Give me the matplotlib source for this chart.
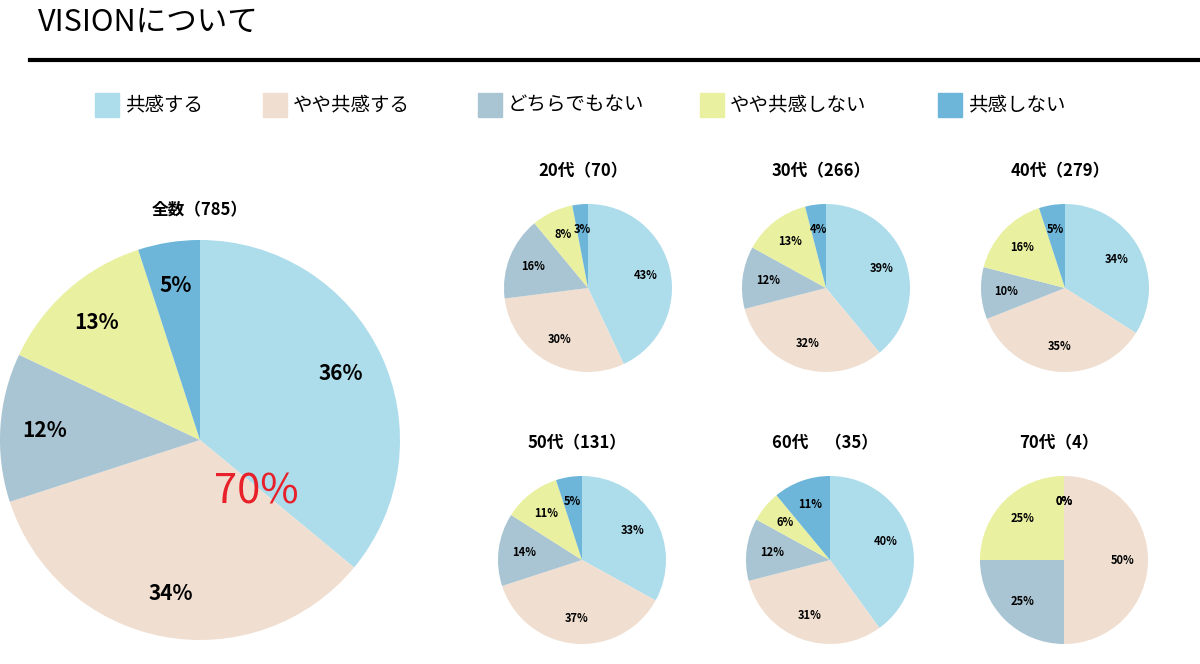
import matplotlib
matplotlib.use("Agg")
import matplotlib.pyplot as plt
from matplotlib.patches import Rectangle

plt.rcParams["font.family"] = "Noto Sans CJK JP"

W, H = 1200, 664
categories = ["共感する", "やや共感する", "どちらでもない", "やや共感しない", "共感しない"]
colors = ["#ADDCEB", "#F0DFD0", "#A9C4D2", "#E9F0A0", "#6DB6D9"]

total_title = "全数（785）"
total_vals = [36, 34, 12, 13, 5]

group_titles = ["20代（70）", "30代（266）", "40代（279）", "50代（131）", "60代　（35）", "70代（4）"]
group_vals = [
    [43, 30, 16, 8, 3],
    [39, 32, 12, 13, 4],
    [34, 35, 10, 16, 5],
    [33, 37, 14, 11, 5],
    [40, 31, 12, 6, 11],
    [0, 50, 25, 25, 0],
]

fig = plt.figure(figsize=(W / 100, H / 100), dpi=100)
bg = fig.add_axes([0, 0, 1, 1])
bg.set_xlim(0, W); bg.set_ylim(H, 0); bg.axis("off")

bg.text(38, 22, "VISIONについて", fontsize=22, va="center", ha="left")
bg.plot([30, 1200], [60, 60], color="black", lw=3)

lx = [95, 263, 478, 700, 938]
for x, c, lab in zip(lx, colors, categories):
    bg.add_patch(Rectangle((x, 93), 24, 24, color=c))
    bg.text(x + 30, 105, lab, fontsize=14, va="center", ha="left")


def pie_at(cx, cy, r, vals, fs, ldist):
    ax = fig.add_axes([(cx - r) / W, 1 - (cy + r) / H, 2 * r / W, 2 * r / H])
    ax.pie(vals, colors=colors, startangle=90, counterclock=False,
           labels=[f"{v}%" for v in vals], labeldistance=ldist,
           textprops=dict(fontsize=fs, fontweight="bold"))
    for t in ax.texts:
        t.set_horizontalalignment("center")
        t.set_verticalalignment("center")
    ax.set_xlim(-1, 1); ax.set_ylim(-1, 1); ax.set_aspect("equal")
    ax.axis("off")
    return ax


pie_at(200, 440, 200, total_vals, 15, 0.78)
bg.text(200, 210, total_title, fontsize=12, fontweight="bold", ha="center", va="center")
bg.add_patch(Rectangle((198, 462), 117, 60, color="white", zorder=5))
fig.text(256 / W, 1 - 492 / H, "70%", fontsize=30, color="#E8202A", ha="center",
         va="center", zorder=10)

centers = [(588, 288), (826, 288), (1065, 288), (582, 560), (830, 560), (1064, 560)]
for (cx, cy), t, v in zip(centers, group_titles, group_vals):
    pie_at(cx, cy, 84, v, 8, 0.7)
    bg.text(cx - 5, cy - 117, t, fontsize=12, fontweight="bold", ha="center", va="center")

fig.savefig("out.png", dpi=100)
